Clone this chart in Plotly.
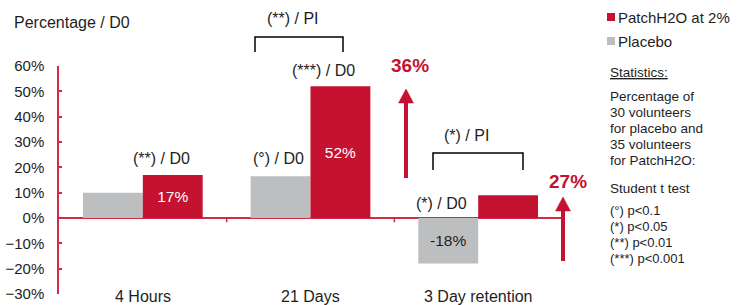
import plotly.graph_objects as go

# ---------------- data ----------------
categories = ["4 Hours", "21 Days", "3 Day retention"]
placebo = [10, 16.5, -18]
patch = [17, 52, 9]
placebo_labels = ["", "", "-18%"]
patch_labels = ["17%", "52%", ""]
d0_labels = ["(**) / D0", "(°) / D0", "(***) / D0", "(*) / D0"]
pl_labels = ["(**) / PI", "(*) / PI"]
gain_labels = ["36%", "27%"]
legend_names = ["PatchH2O at 2%", "Placebo"]
stats_lines = ["Percentage of", "30 volunteers", "for placebo and", "35 volunteers", "for PatchH2O:"]
test_lines = ["(°) p<0.1", "(*) p<0.05", "(**) p<0.01", "(***) p<0.001"]

RED = "#c41230"
AXRED = "#d42a45"
GREY = "#bdbec0"
TXT = "#1e1e1e"
FONT = "Liberation Sans, Arial, sans-serif"

W, H = 747, 305
L, R, T, B = 59, 562, 66, 294


def X(px):
    return (px - L) / (R - L)


def Y(py):
    return (B - py) / (B - T)


fig = go.Figure()
fig.add_trace(go.Bar(
    x=categories, y=placebo, name=legend_names[1], marker_color=GREY,
    text=placebo_labels, textposition="inside", insidetextanchor="middle",
    textfont=dict(color=TXT, size=15.5, family=FONT), showlegend=False,
    marker_line_width=0,
))
fig.add_trace(go.Bar(
    x=categories, y=patch, name=legend_names[0], marker_color=RED,
    text=patch_labels, textposition="inside", insidetextanchor="middle",
    textfont=dict(color="white", size=15.5, family=FONT), showlegend=False,
    marker_line_width=0,
))

shapes = []
annots = []

# category boundary ticks on zero line
for b in [0.5, 1.5]:
    shapes.append(dict(type="line", xref="x", yref="y", x0=b, x1=b, y0=0, y1=-1.7,
                       line=dict(color=AXRED, width=1.5)))

# category labels at bottom
for c in categories:
    annots.append(dict(x=c, y=-30, xref="x", yref="y", text=c, showarrow=False,
                       yanchor="middle", yshift=-2, font=dict(size=16, color=TXT)))

# significance vs D0
d0_pos = [(161, 158), (278, 158), (323, 71), (441, 203)]
for t, (px, py) in zip(d0_labels, d0_pos):
    annots.append(dict(x=X(px), y=Y(py), xref="paper", yref="paper", text=t,
                       showarrow=False, xanchor="center", yanchor="middle",
                       font=dict(size=16, color=TXT)))

# brackets vs placebo
brackets = [(255, 343, 37, 52), (433, 523, 153, 170)]
for x0, x1, yt, yb in brackets:
    shapes.append(dict(type="path", xref="paper", yref="paper",
                       path=f"M {X(x0)},{Y(yb)} L {X(x0)},{Y(yt)} L {X(x1)},{Y(yt)} L {X(x1)},{Y(yb)}",
                       line=dict(color="black", width=1.5)))
pl_pos = [(293, 18), (466, 135)]
for t, (px, py) in zip(pl_labels, pl_pos):
    annots.append(dict(x=X(px), y=Y(py), xref="paper", yref="paper", text=t,
                       showarrow=False, xanchor="center", yanchor="middle",
                       font=dict(size=16, color=TXT)))

# gain arrows
arrows = [(406, 178, 89), (563, 261, 197)]
for ax, yb, ytip in arrows:
    hb = ytip + 14
    shapes.append(dict(type="line", xref="paper", yref="paper", x0=X(ax), x1=X(ax),
                       y0=Y(yb), y1=Y(hb), line=dict(color=RED, width=4)))
    shapes.append(dict(type="path", xref="paper", yref="paper",
                       path=f"M {X(ax-7.5)},{Y(hb)} L {X(ax)},{Y(ytip)} L {X(ax+7.5)},{Y(hb)} Z",
                       fillcolor=RED, line=dict(color=RED, width=0.5)))
gain_pos = [(410, 65), (568, 181)]
for t, (px, py) in zip(gain_labels, gain_pos):
    annots.append(dict(x=X(px), y=Y(py), xref="paper", yref="paper", text=f"<b>{t}</b>",
                       showarrow=False, xanchor="center", yanchor="middle",
                       font=dict(size=19, color=RED)))

# y axis title
annots.append(dict(x=X(12), y=Y(23), xref="paper", yref="paper", text="Percentage / D0",
                   showarrow=False, xanchor="left", yanchor="middle",
                   font=dict(size=16, color=TXT)))

# legend (custom)
leg = [(legend_names[0], RED, 17), (legend_names[1], GREY, 41)]
for name, col, py in leg:
    shapes.append(dict(type="rect", xref="paper", yref="paper",
                       x0=X(607), x1=X(615), y0=Y(py - 4), y1=Y(py + 4),
                       fillcolor=col, line=dict(width=0)))
    annots.append(dict(x=X(616), y=Y(py), xref="paper", yref="paper", text=name,
                       showarrow=False, xanchor="left", yanchor="middle",
                       font=dict(size=15, color=TXT)))

# statistics block
annots.append(dict(x=X(608), y=Y(72), xref="paper", yref="paper", text="<u>Statistics:</u>",
                   showarrow=False, xanchor="left", yanchor="middle",
                   font=dict(size=13.5, color=TXT)))
for i, t in enumerate(stats_lines):
    annots.append(dict(x=X(608), y=Y(96 + 16 * i), xref="paper", yref="paper", text=t,
                       showarrow=False, xanchor="left", yanchor="middle",
                       font=dict(size=13.5, color=TXT)))
annots.append(dict(x=X(608), y=Y(188), xref="paper", yref="paper", text="Student t test",
                   showarrow=False, xanchor="left", yanchor="middle",
                   font=dict(size=13.5, color=TXT)))
for i, t in enumerate(test_lines):
    annots.append(dict(x=X(608), y=Y(210 + 16 * i), xref="paper", yref="paper", text=t,
                       showarrow=False, xanchor="left", yanchor="middle",
                       font=dict(size=13, color=TXT)))

fig.update_layout(
    width=W, height=H,
    margin=dict(l=L, r=W - R, t=T, b=H - B, pad=0, autoexpand=False),
    paper_bgcolor="white", plot_bgcolor="white",
    barmode="group", bargap=0.286, bargroupgap=0,
    font=dict(family=FONT, size=15, color=TXT),
    shapes=shapes, annotations=annots,
    showlegend=False,
    xaxis=dict(showline=False, showticklabels=False, ticks="", showgrid=False,
               zeroline=False, range=[-0.5, 2.5], automargin=False),
    yaxis=dict(range=[-30, 60], dtick=10, ticksuffix="%", showgrid=False,
               showline=True, linecolor=AXRED, linewidth=1.5,
               ticks="inside", ticklen=3, tickcolor=AXRED, tickwidth=1.5,
               zeroline=True, zerolinecolor=AXRED, zerolinewidth=1.5,
               tickfont=dict(size=15, color=TXT), ticklabelstandoff=10,
               automargin=False),
    uniformtext=dict(mode=False),
)

fig.write_html(
    "out.html",
    config={"displayModeBar": False},
    post_script="document.body.style.margin='0';document.body.style.overflow='hidden';",
)
